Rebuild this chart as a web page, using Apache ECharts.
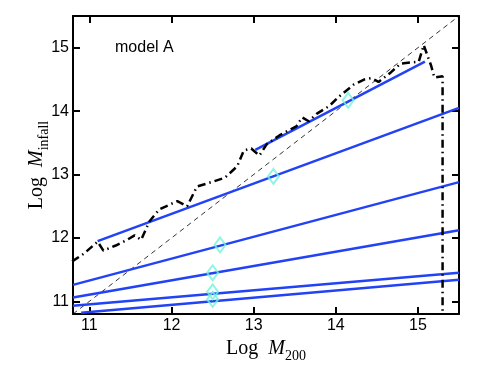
<!DOCTYPE html>
<html>
<head>
<meta charset="utf-8">
<script src="https://cdn.jsdelivr.net/npm/echarts@6/dist/echarts.min.js"></script>
<style>
  html, body { margin: 0; padding: 0; background: #fff; }
  #chart { width: 491px; height: 369px; }
</style>
</head>
<body>
<div id="chart"></div>
<script>
// axis ticks
const tickValues = [11, 12, 13, 14, 15]

// fitted relations (straight blue lines), start and end points
const fitStartX = [13.02, 11.10, 10.80, 10.80, 10.80, 10.90]
const fitStartY = [13.39, 11.95, 11.26, 11.06, 10.93, 10.82]
const fitEndX = [15.085, 15.50, 15.50, 15.50, 15.50, 15.50]
const fitEndY = [14.78, 14.05, 12.88, 12.12, 11.45, 11.34]

// cyan diamond markers
const markerX = [14.15, 13.24, 12.59, 12.50, 12.50, 12.50]
const markerY = [14.17, 12.97, 11.89, 11.45, 11.15, 11.03]

// black dash-dot curve
const curveX = [10.79, 10.93, 11.10, 11.17, 11.32, 11.46, 11.55, 11.63, 11.73, 11.85,
  12.07, 12.19, 12.31, 12.46, 12.65, 12.80, 12.88, 12.97, 13.07, 13.16,
  13.33, 13.52, 13.59, 13.67, 13.77, 13.92, 14.04, 14.22, 14.35, 14.43,
  14.52, 14.67, 14.79, 15.01, 15.07, 15.16, 15.20, 15.30, 15.30]
const curveY = [11.63, 11.75, 11.94, 11.80, 11.88, 11.97, 12.04, 11.97, 12.26, 12.45,
  12.58, 12.50, 12.81, 12.87, 12.95, 13.13, 13.38, 13.41, 13.30, 13.48,
  13.63, 13.76, 13.90, 13.84, 13.96, 14.08, 14.23, 14.42, 14.50, 14.52,
  14.46, 14.61, 14.75, 14.78, 15.04, 14.72, 14.53, 14.55, 10.84]

const xMin = 10.8, xMax = 15.5, yMin = 10.8, yMax = 15.5

const sans = 'Liberation Sans'
const serif = 'Liberation Serif'

const nameRich = {
  a: { fontFamily: serif, fontSize: 20, lineHeight: 28, color: '#000', verticalAlign: 'middle' },
  m: { fontFamily: serif, fontSize: 20, fontStyle: 'italic', lineHeight: 28, color: '#000', verticalAlign: 'middle' },
  s: { fontFamily: serif, fontSize: 14, color: '#000', verticalAlign: 'bottom' }
}

function frameAxis(pos, showLabels) {
  return {
    type: 'value',
    position: pos,
    min: pos === 'bottom' || pos === 'top' ? xMin : yMin,
    max: pos === 'bottom' || pos === 'top' ? xMax : yMax,
    axisLine: { show: true, onZero: false, lineStyle: { color: '#000', width: 2 } },
    axisTick: { show: true, inside: true, length: 7, customValues: tickValues, lineStyle: { color: '#000', width: 2 } },
    axisLabel: {
      show: showLabels, customValues: tickValues, margin: 4,
      fontFamily: sans, fontSize: 16, color: '#000'
    },
    splitLine: { show: false }
  }
}

const xBottom = frameAxis('bottom', true)
xBottom.name = '{a|Log  }{m|M}{s|200}'
xBottom.nameLocation = 'middle'
xBottom.nameGap = 20
xBottom.nameTextStyle = { rich: nameRich }

const yLeft = frameAxis('left', true)
yLeft.name = '{a|Log  }{m|M}{s|infall}'
yLeft.nameLocation = 'middle'
yLeft.nameGap = 22
yLeft.nameMoveOverlap = false
yLeft.nameRotate = 90
yLeft.nameTextStyle = { rich: nameRich }

const series = []

// one-to-one line
series.push({
  type: 'line',
  data: [[xMin, yMin], [xMax, yMax]],
  symbol: 'none',
  lineStyle: { color: '#000', width: 0.8, type: [5, 4] },
  z: 1,
  silent: true
})

for (let i = 0; i < fitStartX.length; i++) {
  series.push({
    type: 'line',
    data: [[fitStartX[i], fitStartY[i]], [fitEndX[i], fitEndY[i]]],
    symbol: 'none',
    lineStyle: { color: '#2242f5', width: 2.5 },
    z: 2,
    silent: true
  })
}

series.push({
  type: 'line',
  data: curveX.map((x, i) => [x, curveY[i]]),
  symbol: 'none',
  lineStyle: { color: '#000', width: 2.5, type: [8, 4, 1.5, 4] },
  z: 3,
  silent: true
})

series.push({
  type: 'scatter',
  data: markerX.map((x, i) => [x, markerY[i]]),
  symbol: 'diamond',
  symbolSize: [11, 15],
  itemStyle: { color: 'transparent', borderColor: '#72f2da', borderWidth: 2 },
  z: 4,
  silent: true
})

const chart = echarts.init(document.getElementById('chart'))
chart.setOption({
  animation: false,
  backgroundColor: '#fff',
  grid: { left: 73, top: 16, right: 32, bottom: 55 },
  xAxis: [xBottom, frameAxis('top', false)],
  yAxis: [yLeft, frameAxis('right', false)],
  graphic: [{
    type: 'text',
    left: 115,
    top: 40,
    style: { text: 'model A', font: '16px "Liberation Sans"', fill: '#000' }
  }],
  series: series
})
</script>
</body>
</html>
